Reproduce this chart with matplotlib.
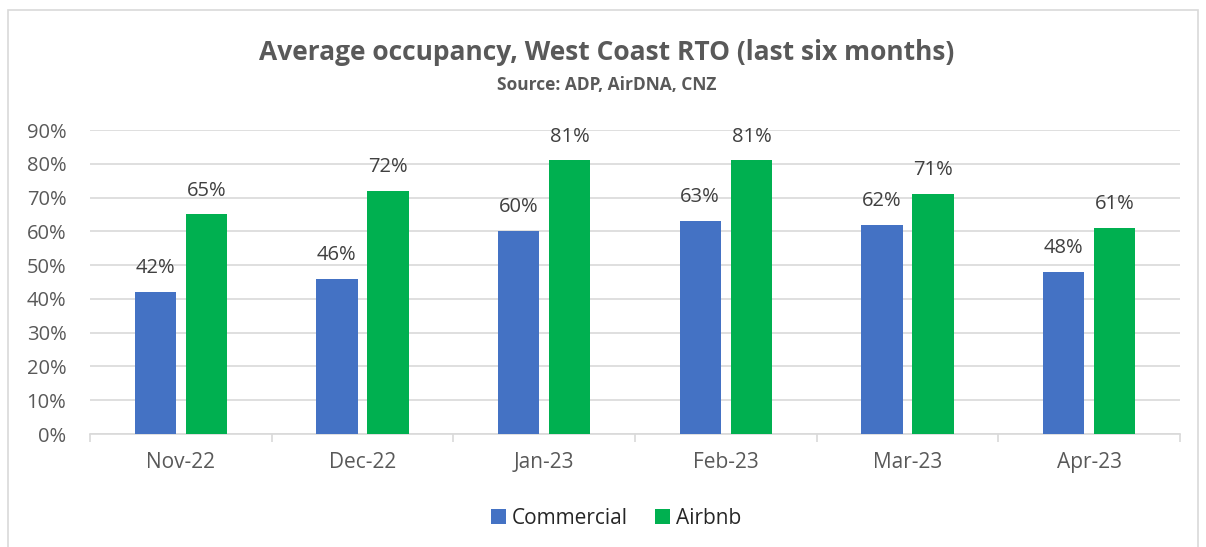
import numpy as np
import matplotlib
matplotlib.use('Agg')
import matplotlib.pyplot as plt
from matplotlib.patches import Rectangle
from matplotlib.ticker import FixedLocator, FuncFormatter

plt.rcParams['font.family'] = ['Open Sans', 'DejaVu Sans']

months = ['Nov-22', 'Dec-22', 'Jan-23', 'Feb-23', 'Mar-23', 'Apr-23']
commercial = [42, 46, 60, 63, 62, 48]
airbnb = [65, 72, 81, 81, 71, 61]

BLUE = '#4472C4'
GREEN = '#00B050'
GRID = '#D9D9D9'
TXT = '#595959'

fig = plt.figure(figsize=(12.06, 5.47), dpi=100)
ax = fig.add_axes([90 / 1206, 1 - 434 / 547, (1180 - 90) / 1206, (434 - 130) / 547])

x = np.arange(len(months))
w = 0.228
off = 0.141
b1 = ax.bar(x - off, commercial, w, color=BLUE, label='Commercial', zorder=3)
b2 = ax.bar(x + off, airbnb, w, color=GREEN, label='Airbnb', zorder=3)

for bars, vals in ((b1, commercial), (b2, airbnb)):
    for rect, v in zip(bars, vals):
        ax.annotate(f'{v}%', (rect.get_x() + rect.get_width() / 2, v),
                    xytext=(0, 10), textcoords='offset points',
                    ha='center', va='bottom', fontsize=14.5, color='#404040')

ax.set_xlim(-0.5, len(months) - 0.5)
ax.set_ylim(0, 90)
ax.set_yticks(np.arange(0, 91, 10))
ax.yaxis.set_major_formatter(FuncFormatter(lambda v, p: f'{v:.0f}%'))
ax.tick_params(axis='y', length=0, labelsize=14.5, labelcolor=TXT, pad=17)
ax.grid(axis='y', color=GRID, linewidth=1.2, zorder=0)

ax.set_xticks(x)
ax.set_xticklabels(months)
ax.xaxis.set_minor_locator(FixedLocator(np.arange(-0.5, len(months), 1)))
ax.tick_params(axis='x', which='major', length=0, labelsize=15, labelcolor=TXT, pad=13)
ax.tick_params(axis='x', which='minor', length=6, color=GRID, width=1.2)

for s in ('left', 'right', 'top'):
    ax.spines[s].set_visible(False)
ax.spines['bottom'].set_color(GRID)
ax.spines['bottom'].set_linewidth(1.2)

fig.text(0.503, 1 - 52 / 547, 'Average occupancy, West Coast RTO (last six months)',
         ha='center', va='center', fontsize=19, fontweight='bold', color=TXT)
fig.text(0.503, 1 - 85 / 547, 'Source: ADP, AirDNA, CNZ',
         ha='center', va='center', fontsize=12.5, fontweight='bold', color=TXT)

fig.legend(handles=[b1, b2], labels=['Commercial', 'Airbnb'], loc='center',
           bbox_to_anchor=(0.511, 1 - 518 / 547), ncol=2, frameon=False,
           fontsize=15, handlelength=0.7, handleheight=0.7, handletextpad=0.3,
           columnspacing=1.3, labelcolor='#262626')

border = Rectangle((8 / 1206, -0.05), (1198 - 8) / 1206, 1 - 10 / 547 + 0.05,
                   transform=fig.transFigure, fill=False, edgecolor=GRID,
                   linewidth=1.2, clip_on=False)
fig.patches.append(border)

fig.savefig('out.png', dpi=100)
